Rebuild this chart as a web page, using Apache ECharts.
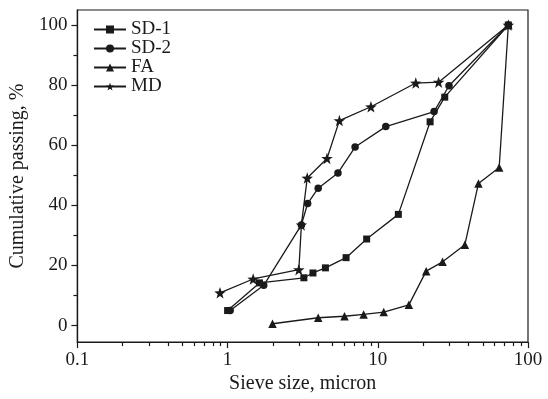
<!DOCTYPE html>
<html>
<head>
<meta charset="utf-8">
<script src="https://cdn.jsdelivr.net/npm/echarts@6/dist/echarts.min.js"></script>
<style>
  html, body { margin: 0; padding: 0; background: #fff; }
  #chart { width: 548px; height: 399px; }
</style>
</head>
<body>
<div id="chart"></div>
<script>
// sieve size (micron) / cumulative passing (%)
const sd1X = [1.0, 1.63, 3.22, 3.7, 4.48, 6.15, 8.43, 13.7, 22.3, 27.9, 74];
const sd1Y = [5.0, 14.2, 15.9, 17.5, 19.2, 22.6, 28.8, 37.0, 67.8, 76.0, 100];

const sd2X = [1.04, 1.74, 3.1, 3.41, 4.01, 5.43, 7.06, 11.3, 23.7, 29.8, 74];
const sd2Y = [5.0, 13.4, 33.5, 40.6, 45.7, 50.8, 59.4, 66.2, 71.2, 79.8, 100];

const faX = [1.99, 4.01, 6.0, 8.05, 10.95, 16.1, 21.0, 27.0, 38.0, 46.8, 64.3, 74];
const faY = [0.6, 2.6, 3.1, 3.7, 4.5, 6.9, 18.1, 21.2, 26.9, 47.3, 52.6, 100];

const mdX = [0.89, 1.48, 2.98, 3.1, 3.39, 4.59, 5.55, 9.0, 17.9, 25.4, 74];
const mdY = [10.9, 15.5, 18.6, 33.5, 49.1, 55.6, 68.2, 72.8, 80.7, 81.0, 100];

const xLabels = [0.1, 1, 10, 100];
const xMinor = [0.2, 0.3, 0.4, 0.5, 0.6, 0.7, 0.8, 0.9, 2, 3, 4, 5, 6, 7, 8, 9, 20, 30, 40, 50, 60, 70, 80, 90];
const yLabels = [0, 20, 40, 60, 80, 100];
const yMinor = [10, 30, 50, 70, 90];

const pairs = (xs, ys) => xs.map((x, i) => [x, ys[i]]);

const ink = '#1a1a1a';
const font = 'Liberation Serif';

const mkSeries = (name, xs, ys, symbol, size, axisIdx) => ({
  name: name,
  type: 'line',
  xAxisIndex: axisIdx,
  yAxisIndex: axisIdx,
  data: pairs(xs, ys),
  symbol: symbol,
  symbolSize: size,
  showAllSymbol: true,
  lineStyle: { color: ink, width: 1.3 },
  itemStyle: { color: ink },
  emphasis: { disabled: true },
  animation: false
});

const chart = echarts.init(document.getElementById('chart'));
chart.setOption({
  animation: false,
  grid: {
    left: 72.7, right: 20, top: 10, bottom: 55,
    show: true, borderColor: ink, borderWidth: 1.2, backgroundColor: 'transparent'
  },
  legend: {
    orient: 'vertical',
    left: 88, top: 15,
    itemWidth: 32, itemHeight: 10, itemGap: 0,
    textStyle: { fontFamily: font, fontSize: 19, color: ink, lineHeight: 19 },
    data: ['SD-1', 'SD-2', 'FA', 'MD']
  },
  xAxis: [{
    type: 'log', logBase: 10, min: 0.1, max: 100, position: 'bottom',
    name: 'Sieve size, micron', nameLocation: 'middle', nameGap: 25,
    nameTextStyle: { fontFamily: font, fontSize: 20, color: ink, verticalAlign: 'top' },
    axisLine: { onZero: false, lineStyle: { color: ink, width: 1.2 } },
    axisTick: { customValues: xLabels, length: 6, lineStyle: { color: ink, width: 1.2 } },
    axisLabel: { customValues: xLabels, margin: 8, fontFamily: font, fontSize: 19, color: ink },
    splitLine: { show: false }
  }, {
    // minor ticks 2..9 per decade
    type: 'log', logBase: 10, min: 0.1, max: 100, position: 'bottom',
    axisLine: { show: true, onZero: false, lineStyle: { color: ink, width: 1.2 } },
    axisTick: { show: true, customValues: xMinor, length: 4, lineStyle: { color: ink, width: 1.2 } },
    axisLabel: { show: false },
    splitLine: { show: false }
  }],
  yAxis: [{
    type: 'value', min: -5.5, max: 105, position: 'left',
    name: 'Cumulative passing, %', nameLocation: 'middle', nameGap: 43,
    nameTextStyle: { fontFamily: font, fontSize: 20, color: ink },
    axisLine: { onZero: false, lineStyle: { color: ink, width: 1.2 } },
    axisTick: { customValues: yLabels, length: 6, lineStyle: { color: ink, width: 1.2 } },
    axisLabel: { customValues: yLabels, margin: 10, fontFamily: font, fontSize: 19, color: ink },
    splitLine: { show: false }
  }, {
    type: 'value', min: -5.5, max: 105, position: 'left',
    axisLine: { show: true, onZero: false, lineStyle: { color: ink, width: 1.2 } },
    axisTick: { show: true, customValues: yMinor, length: 4, lineStyle: { color: ink, width: 1.2 } },
    axisLabel: { show: false },
    splitLine: { show: false }
  }],
  series: [
    mkSeries('SD-1', sd1X, sd1Y, 'rect', 7, 0),
    mkSeries('SD-2', sd2X, sd2Y, 'circle', 7.5, 0),
    mkSeries('FA', faX, faY, 'triangle', 8.5, 0),
    mkSeries('MD', mdX, mdY, 'path://M0,-10L2.35,-3.24L9.51,-3.09L3.8,1.24L5.88,8.09L0,4L-5.88,8.09L-3.8,1.24L-9.51,-3.09L-2.35,-3.24Z', 11.5, 1)
  ]
});
</script>
</body>
</html>
